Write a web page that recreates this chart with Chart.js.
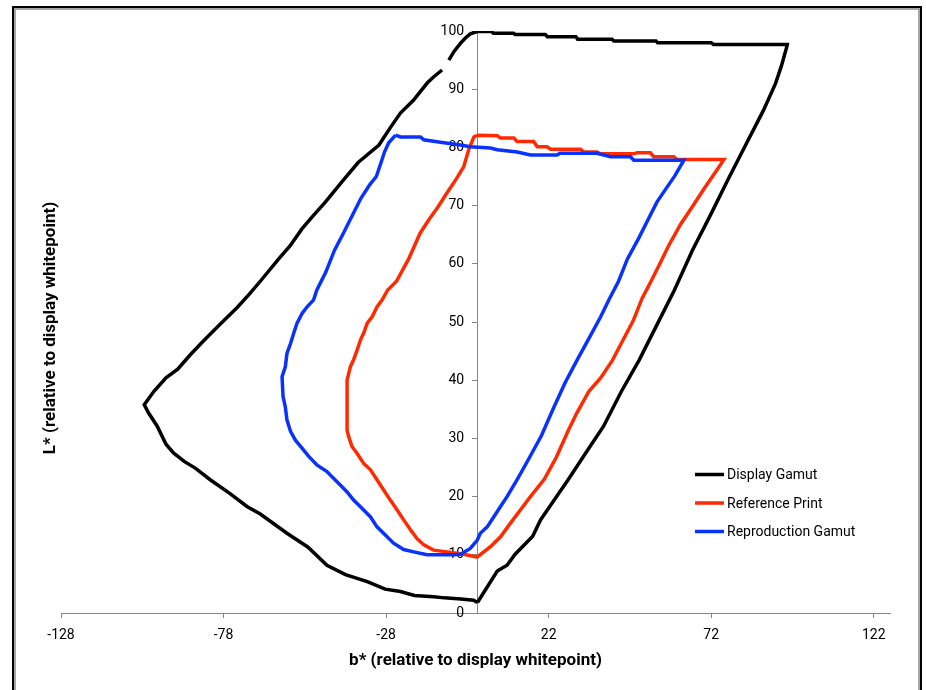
<!DOCTYPE html>
<html>
<head>
<meta charset="utf-8">
<script src="https://cdn.jsdelivr.net/npm/chart.js@4/dist/chart.umd.min.js"></script>
<style>
  html, body { margin: 0; padding: 0; background: #fff; }
  #wrap { position: relative; width: 926px; height: 690px; overflow: hidden; }
  #frame {
    position: absolute; left: 12px; top: 6px; width: 906px; height: 700px;
    border: 2px solid #000; box-shadow: inset 0 0 0 2px #a6a6a6;
  }
  #myChart { position: absolute; left: 0; top: 0; }
</style>
</head>
<body>
<div id="wrap">
  <div id="frame"></div>
  <canvas id="myChart" width="926" height="690"></canvas>
</div>
<script>
const FONT = "Roboto, 'Liberation Sans', sans-serif";

// ------------------------------------------------------------------
// DATA
const seriesLabels = ['Display Gamut', 'Reference Print', 'Reproduction Gamut'];
const seriesColors = ['#000000', '#ff2a00', '#0a32ff'];

const xTicks = [-128, -78, -28, 22, 72, 122];

// Display Gamut: from the bottom point, up the right edge, along the top, down the left side
const displayX = [
  0.1, 6.2, 9.2, 11.7, 17.1, 19.5, 22.6, 28.1, 33.4, 38.9, 44.4, 49.8, 55.3, 60.7, 66.2,
  71.8, 77.1, 82.6, 88.1, 91.8, 93.6, 95.3, 95.4,
  72.7, 72.0, 55.5, 55.0, 42.0, 41.5, 30.9, 30.4, 21.6, 21.0, 11.7, 11.2, 5.0, 4.5, 0,
  -2.1, -3.6, -5.1, -7.2, -8.7, null, -10.8, -13.4, -15.3, -19.6, -23.6, -26.7, -30.2,
  -36.6, -41.1, -46.7, -50.2, -53.9, -57.5, -61.1, -66.7, -70.2, -73.8, -79.3, -84.8,
  -88.5, -92.1, -95.7, -99.4, -102.4,
  -101.1, -98.4, -95.7, -93.4, -90.0, -86.7, -82.1, -76.0, -70.8, -66.7, -58.5, -52.0,
  -46.2, -40.5, -33.8, -28.3, -23.6, -19.3, -13.4, -10.1, -5.0, -1.1, 0.1
];
const displayY = [
  1.8, 7.2, 8.2, 10.1, 13.2, 16.0, 18.5, 23.0, 27.5, 32.1, 38.1, 43.4, 49.5, 55.5, 62.3,
  68.4, 74.4, 80.4, 86.4, 91.0, 94.0, 97.4, 97.7,
  97.7, 98.0, 98.0, 98.3, 98.3, 98.6, 98.6, 99.0, 99.0, 99.4, 99.4, 99.6, 99.6, 99.9, 99.9,
  99.5, 98.8, 97.9, 96.4, 95.0, null, 93.3, 92.1, 91.1, 88.1, 85.9, 83.4, 80.4,
  77.4, 74.4, 70.6, 68.4, 66.0, 63.1, 60.8, 57.0, 54.7, 52.5, 49.5, 46.4,
  44.2, 41.9, 40.4, 38.1, 35.8,
  34.4, 32.1, 29.0, 27.5, 26.0, 24.9, 22.9, 20.5, 18.3, 17.0, 13.7, 11.3,
  8.2, 6.6, 5.4, 4.1, 3.7, 3.0, 2.8, 2.6, 2.4, 2.2, 1.8
];

// Reference Print
const printX = [
  0, 6.2, 7.2, 11.3, 12.3, 17.4, 18.5, 21.5, 22.6, 31.8, 32.8, 36.9, 37.9, 48.2, 49.2,
  53.3, 54.3, 60.5, 61.5, 75.9,
  73.5, 69.8, 66.2, 62.6, 58.9, 56.2, 53.5, 50.7, 48.0, 44.4, 41.6, 38.0, 34.4, 30.7,
  28.0, 24.4, 20.7, 16.4, 13.3, 10.2, 7.2, 4.1, 0,
  -4.1, -9.2, -13.4, -16.4, -18.5, -20.5, -22.6, -24.6, -26.7, -28.7, -30.8, -32.8,
  -34.9, -36.9, -38.5, -39.5, -40.0, -40.0, -39.0, -38.0, -36.9, -35.9, -34.9, -33.8,
  -32.3, -30.8, -29.2, -27.5, -24.8, -21.1, -17.5, -14.8, -12.0, -9.5, -6.5, -4.1,
  -2.6, -1.0, 0
];
const printY = [
  82.1, 82.0, 81.6, 81.6, 81.0, 81.0, 80.1, 80.1, 79.7, 79.7, 79.2, 79.2, 78.9, 78.9, 79.1,
  79.1, 78.4, 78.4, 77.9, 77.9,
  75.9, 72.9, 69.8, 66.8, 63.1, 60.0, 57.0, 54.0, 50.2, 46.4, 43.4, 40.4, 38.1, 34.4,
  31.3, 26.8, 23.0, 20.0, 17.7, 15.4, 13.1, 11.4, 9.6,
  10.1, 10.5, 10.8, 11.7, 12.8, 14.3, 16.0, 17.7, 19.4, 21.1, 22.9, 24.6,
  25.7, 27.4, 28.6, 30.3, 31.4, 40.0, 42.3, 43.5, 45.2, 46.9, 48.1, 49.8,
  50.9, 52.6, 53.8, 55.5, 57.0, 60.8, 65.3, 67.6, 69.8, 72.0, 74.5, 76.7,
  79.6, 81.8, 82.1
];

// Reproduction Gamut
const reproX = [
  -25.1, -23.6, -17.4, -16.4, -11.3, -5.1, -2.1, 4.1, 6.2, 12.3, 16.4, 24.6, 25.5, 36.9,
  41.0, 47.2, 48.2, 63.6,
  60.8, 57.1, 55.3, 52.6, 49.8, 46.2, 43.5, 40.7, 38.0, 34.4, 30.7, 27.1, 23.4, 19.8,
  16.2, 12.4, 9.2, 7.2, 5.1, 3.1, 1.0, 0, -2.1, -5.1, -7.2, -15.4, -19.5, -22.6, -25.7,
  -27.7, -30.8, -32.8, -34.9, -38.0, -40.0, -42.1, -44.1, -46.2, -49.2, -51.8, -53.8,
  -55.9, -57.4, -58.5, -59.0, -59.7, -60.0, -59.0, -58.5, -57.4, -56.4, -55.4, -53.8,
  -52.3, -50.3, -49.3, -46.6, -43.9, -41.1, -38.4, -35.7, -33.0, -31.0, -29.5, -28.5,
  -27.2, -25.1
];
const reproY = [
  82.1, 81.8, 81.8, 81.3, 80.9, 80.4, 80.1, 79.9, 79.6, 79.2, 78.7, 78.7, 79.0, 79.0,
  78.4, 78.4, 77.8, 77.8,
  75.1, 72.1, 70.6, 67.6, 64.5, 60.8, 57.0, 54.0, 50.9, 47.2, 43.4, 39.6, 35.1, 30.5,
  26.8, 23.0, 20.0, 18.3, 16.5, 14.8, 13.7, 12.5, 11.1, 10.1, 10.0, 10.0, 10.5, 10.9, 12.0,
  13.1, 14.8, 16.5, 17.7, 19.4, 20.8, 22.0, 23.1, 24.3, 25.4, 26.9, 28.3,
  29.7, 31.2, 33.2, 35.4, 37.2, 40.6, 42.3, 44.6, 46.3, 48.1, 49.8, 51.5,
  52.6, 53.8, 55.5, 58.5, 62.3, 65.3, 68.3, 71.3, 73.6, 75.0, 77.5, 79.2,
  80.8, 82.1
];
// ------------------------------------------------------------------


// ------------------------------------------------------------------
// HELPERS
function toPoints(xs, ys) {
  return xs.map((x, i) => ({ x: x, y: ys[i] }));
}

function makeDataset(i, xs, ys) {
  return {
    label: seriesLabels[i],
    data: toPoints(xs, ys),
    showLine: true,
    borderColor: seriesColors[i],
    backgroundColor: seriesColors[i],
    borderWidth: 3.5,
    pointRadius: 0,
    tension: 0,
    spanGaps: false,
    order: 3 - i,
  };
}

// y tick labels: chart.js puts them right on the line when the axis sits at x=0,
// so they are drawn here with a gap, under the datasets
const yLabelsPlugin = {
  id: 'yLabels',
  beforeDatasetsDraw(chart) {
    const { ctx, scales } = chart;
    const axisX = scales.x.getPixelForValue(0);
    ctx.save();
    ctx.font = '14px ' + FONT;
    ctx.fillStyle = '#000';
    ctx.textAlign = 'right';
    ctx.textBaseline = 'middle';
    scales.y.ticks.forEach(t => {
      ctx.fillText(String(t.value), axisX - 13, scales.y.getPixelForValue(t.value));
    });
    ctx.restore();
  }
};

// y axis title sits at the far left, not next to the axis at x=0
const yTitlePlugin = {
  id: 'yTitle',
  afterDraw(chart) {
    const { ctx, chartArea } = chart;
    ctx.save();
    ctx.translate(51, (chartArea.top + chartArea.bottom) / 2 + 6);
    ctx.rotate(-Math.PI / 2);
    ctx.font = 'bold 17px ' + FONT;
    ctx.fillStyle = '#000';
    ctx.textAlign = 'center';
    ctx.textBaseline = 'middle';
    ctx.fillText('L* (relative to display whitepoint)', 0, 0);
    ctx.restore();
  }
};

const legendPlugin = {
  id: 'boxLegend',
  afterDraw(chart) {
    const { ctx } = chart;
    ctx.save();
    ctx.font = '14px ' + FONT;
    ctx.textBaseline = 'middle';
    chart.data.datasets.forEach((ds, i) => {
      const y = 474.5 + i * 28.5;
      ctx.strokeStyle = ds.borderColor;
      ctx.lineWidth = 3.5;
      ctx.beginPath();
      ctx.moveTo(695, y);
      ctx.lineTo(724, y);
      ctx.stroke();
      ctx.fillStyle = '#000';
      ctx.fillText(ds.label, 727, y + 1);
    });
    ctx.restore();
  }
};
// ------------------------------------------------------------------


// ------------------------------------------------------------------
// CHART
const ctx = document.getElementById('myChart');

const config = {
  type: 'scatter',
  data: {
    datasets: [
      makeDataset(0, displayX, displayY),
      makeDataset(1, printX, printY),
      makeDataset(2, reproX, reproY),
    ],
  },
  options: {
    responsive: false,
    animation: false,
    devicePixelRatio: 1,
    layout: { padding: { left: 61, right: 36, top: 31, bottom: 0 } },
    plugins: {
      legend: { display: false },
      tooltip: { enabled: false },
    },
    scales: {
      x: {
        type: 'linear',
        position: 'bottom',
        min: -128,
        max: 127,
        afterBuildTicks: (scale) => {
          scale.ticks = xTicks.map(v => ({ value: v }));
        },
        afterFit: (scale) => { scale.height = 77; },
        grid: { drawOnChartArea: false, tickLength: 5, color: '#868686' },
        border: { color: '#868686', width: 1 },
        ticks: {
          font: { family: FONT, size: 14 },
          color: '#000',
          padding: 9,
          maxRotation: 0,
        },
        title: {
          display: true,
          text: 'b* (relative to display whitepoint)',
          font: { family: FONT, size: 17, weight: 'bold' },
          color: '#000',
          padding: { top: 4, bottom: 19 },
        },
      },
      y: {
        type: 'linear',
        position: { x: 0 },
        min: 0,
        max: 100,
        grid: { drawOnChartArea: false, tickLength: 5, color: '#868686' },
        border: { color: '#868686', width: 1 },
        ticks: {
          stepSize: 10,
          display: false,
        },
      },
    },
  },
  plugins: [yLabelsPlugin, yTitlePlugin, legendPlugin],
};

const myChart = new Chart(ctx, config);
</script>
</body>
</html>
